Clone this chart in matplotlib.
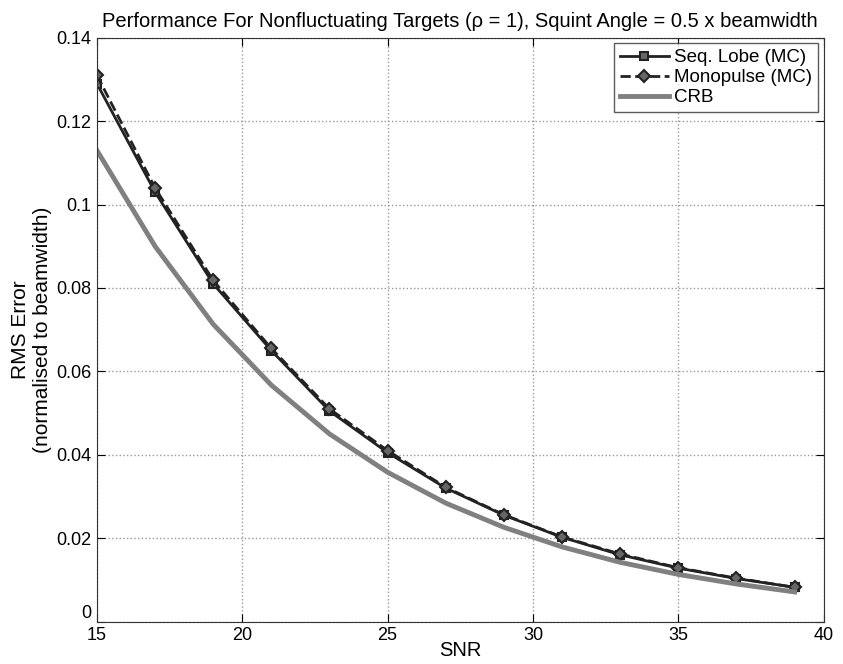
import matplotlib
matplotlib.use('Agg')
import matplotlib.pyplot as plt

plt.rcParams['font.family'] = ['Liberation Sans', 'DejaVu Sans']

snr = [15, 17, 19, 21, 23, 25, 27, 29, 31, 33, 35, 37, 39]
seq_lobe = [0.129, 0.103, 0.081, 0.065, 0.0505, 0.0405, 0.032, 0.0255, 0.0202, 0.016, 0.0128, 0.0103, 0.0082]
monopulse = [0.131, 0.104, 0.0818, 0.0655, 0.051, 0.041, 0.0322, 0.0256, 0.0203, 0.0162, 0.0129, 0.0104, 0.0082]
crb = [0.113, 0.090, 0.0713, 0.0567, 0.045, 0.0358, 0.0284, 0.0226, 0.0179, 0.0142, 0.0113, 0.009, 0.0071]

fig = plt.figure(figsize=(8.43, 6.64), dpi=100)
ax = fig.add_axes([0.115, 0.064, 0.862, 0.879])

ax.plot(snr, seq_lobe, '-', color='#222222', lw=2, marker='s', ms=6,
        mfc='#666666', mec='#222222', mew=1.5, label='Seq. Lobe (MC)')
ax.plot(snr, monopulse, '--', color='#222222', lw=2, marker='D', ms=6,
        mfc='#666666', mec='#222222', mew=1.5, label='Monopulse (MC)')
ax.plot(snr, crb, '-', color='#808080', lw=3.5, label='CRB')

ax.set_xlim(15, 40)
ax.set_ylim(0, 0.14)
ax.set_xticks([15, 20, 25, 30, 35, 40])
ax.set_yticks([0, 0.02, 0.04, 0.06, 0.08, 0.1, 0.12, 0.14])
ax.set_yticklabels(['0', '0.02', '0.04', '0.06', '0.08', '0.1', '0.12', '0.14'])
ax.tick_params(direction='in', top=True, right=True, labelsize=13, length=6)
ax.tick_params(axis='x', pad=4)
ax.tick_params(axis='y', pad=4)
# the "0" sits just above the x axis, like in the original
ax.yaxis.get_major_ticks()[0].label1.set_verticalalignment('bottom')
ax.grid(True, linestyle=':', color='#999999', lw=1)
for s in ax.spines.values():
    s.set_color('#333333')

ax.set_xlabel('SNR', fontsize=14.5, labelpad=-2)
ax.set_ylabel('RMS Error\n(normalised to beamwidth)', fontsize=15, labelpad=3)
ax.set_title('Performance For Nonfluctuating Targets (\u03c1 = 1), Squint Angle = 0.5 x beamwidth',
             fontsize=14.5, pad=8)

leg = ax.legend(loc='upper right', fontsize=13.5, fancybox=False, edgecolor='#333333',
                handlelength=2.6, borderpad=0.3, labelspacing=0.15, handletextpad=0.3,
                borderaxespad=0.3)
leg.get_frame().set_linewidth(1)

fig.savefig('out.png', dpi=100)
